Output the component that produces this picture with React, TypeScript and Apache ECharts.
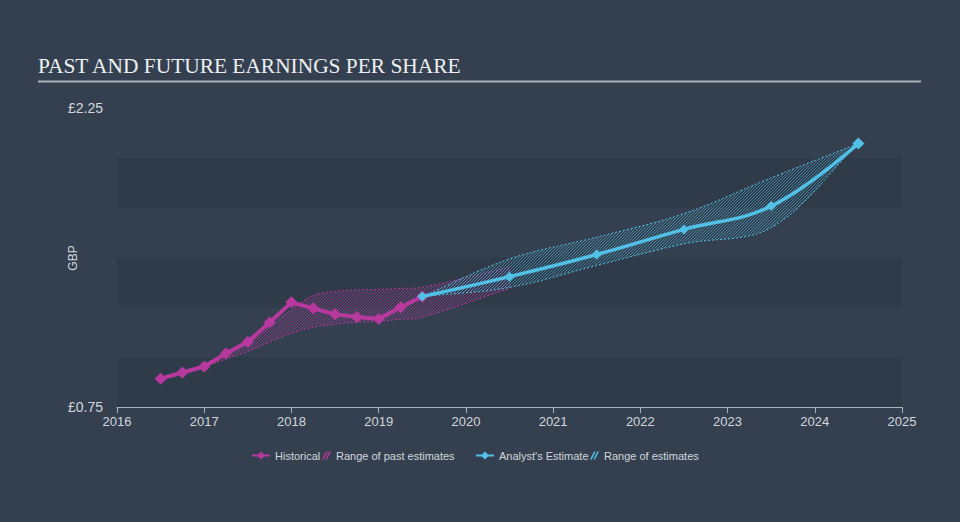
import React, { useEffect, useRef } from 'react';
import * as echarts from 'echarts';

// ---- data ----
const historicalX = [2016.5, 2016.75, 2017.0, 2017.25, 2017.5, 2017.75, 2018.0, 2018.25, 2018.5, 2018.75, 2019.0, 2019.25, 2019.5];
const historicalEPS = [0.892, 0.923, 0.953, 1.018, 1.077, 1.174, 1.275, 1.245, 1.215, 1.201, 1.191, 1.25, 1.304];

const pastRangeX = [2017.0, 2017.25, 2017.5, 2017.75, 2018.0, 2018.25, 2018.5, 2018.75, 2019.0, 2019.25, 2019.5, 2020.5];
const pastRangeLow = [0.953, 0.99, 1.03, 1.075, 1.12, 1.15, 1.165, 1.175, 1.18, 1.19, 1.2, 1.345];
const pastRangeHigh = [0.953, 1.015, 1.07, 1.15, 1.24, 1.31, 1.33, 1.337, 1.34, 1.345, 1.35, 1.45];

const futureX = [2019.5, 2020.5, 2021.5, 2022.5, 2023.5, 2024.5];
const estimateEPS = [1.304, 1.404, 1.515, 1.641, 1.758, 2.072];
const futureLow = [1.304, 1.35, 1.46, 1.569, 1.65, 2.072];
const futureHigh = [1.304, 1.493, 1.602, 1.72, 1.9, 2.072];

const yLabelValues = [0.75, 2.25];
const xYears = [2016, 2017, 2018, 2019, 2020, 2021, 2022, 2023, 2024, 2025];

const TITLE = 'PAST AND FUTURE EARNINGS PER SHARE';

// ---- styles ----
const BG = '#344050';
const BAND = '#303b4a';
const MAGENTA = '#b7399e';
const CYAN = '#52c1e8';
const TEXT = '#d3d7dc';
const SMOOTH = 0.35;
const HATCH_GAP = 3;

type Pt = number[];

// cubic bezier segments for a smooth curve through screen points
function segments(pts: Pt[], s: number): Pt[][] {
  const out: Pt[][] = [];
  for (let i = 0; i < pts.length - 1; i++) {
    const p0 = pts[i];
    const p1 = pts[i + 1];
    const prev = pts[i - 1] || p0;
    const next = pts[i + 2] || p1;
    const d0a = Math.hypot(p0[0] - prev[0], p0[1] - prev[1]);
    const d0b = Math.hypot(p1[0] - p0[0], p1[1] - p0[1]);
    const d1b = Math.hypot(next[0] - p1[0], next[1] - p1[1]);
    const r0 = d0a + d0b > 0 ? d0b / (d0a + d0b) : 0;
    const r1 = d0b + d1b > 0 ? d0b / (d0b + d1b) : 0;
    const c1 = [p0[0] + (p1[0] - prev[0]) * s * r0, p0[1] + (p1[1] - prev[1]) * s * r0];
    const c2 = [p1[0] - (next[0] - p0[0]) * s * r1, p1[1] - (next[1] - p0[1]) * s * r1];
    out.push([p0, c1, c2, p1]);
  }
  return out;
}

function traceSmooth(ctx: any, pts: Pt[], s: number, moveFirst: boolean) {
  if (moveFirst) ctx.moveTo(pts[0][0], pts[0][1]);
  else ctx.lineTo(pts[0][0], pts[0][1]);
  for (const [, c1, c2, p1] of segments(pts, s)) ctx.bezierCurveTo(c1[0], c1[1], c2[0], c2[1], p1[0], p1[1]);
}

function flatten(pts: Pt[], s: number): Pt[] {
  const res: Pt[] = [pts[0]];
  for (const [p0, c1, c2, p1] of segments(pts, s)) {
    for (let k = 1; k <= 24; k++) {
      const t = k / 24;
      const u = 1 - t;
      const a = u * u * u, b = 3 * u * u * t, c = 3 * u * t * t, d = t * t * t;
      res.push([a * p0[0] + b * c1[0] + c * c2[0] + d * p1[0], a * p0[1] + b * c1[1] + c * c2[1] + d * p1[1]]);
    }
  }
  return res;
}

function sampleY(flat: Pt[], xs: number[]): number[] {
  const out: number[] = [];
  let j = 0;
  for (const x of xs) {
    while (j < flat.length - 2 && flat[j + 1][0] < x) j++;
    const a = flat[j];
    const b = flat[j + 1] || a;
    const dx = b[0] - a[0];
    const t = dx !== 0 ? Math.min(1, Math.max(0, (x - a[0]) / dx)) : 0;
    out.push(a[1] + (b[1] - a[1]) * t);
  }
  return out;
}

echarts.graphic.registerShape(
  'bandShape',
  echarts.graphic.extendShape({
    shape: { upper: [] as Pt[], lower: [] as Pt[], smooth: 0.35 },
    buildPath(ctx: any, shape: any) {
      const up: Pt[] = shape.upper;
      const lo: Pt[] = shape.lower;
      if (!up.length) return;
      traceSmooth(ctx, up, shape.smooth, true);
      traceSmooth(ctx, lo.slice().reverse(), shape.smooth, false);
      ctx.closePath();
    },
  } as any)
);

echarts.graphic.registerShape(
  'bandHatch',
  echarts.graphic.extendShape({
    shape: { upper: [] as Pt[], lower: [] as Pt[], smooth: 0.35, gap: 3 },
    buildPath(ctx: any, shape: any) {
      const up: Pt[] = shape.upper;
      const lo: Pt[] = shape.lower;
      if (!up.length) return;
      const fu = flatten(up, shape.smooth);
      const fl = flatten(lo, shape.smooth);
      const x0 = up[0][0];
      const x1 = up[up.length - 1][0];
      const step = 0.5;
      const xs: number[] = [];
      for (let x = x0; x <= x1 + 1e-6; x += step) xs.push(x);
      const yu = sampleY(fu, xs);
      const yl = sampleY(fl, xs);
      let yMin = Infinity, yMax = -Infinity;
      for (let i = 0; i < xs.length; i++) {
        yMin = Math.min(yMin, yu[i]);
        yMax = Math.max(yMax, yl[i]);
      }
      // lines of the form x + y = c  ("/" direction)
      const cStart = Math.floor((x0 + yMin) / shape.gap) * shape.gap;
      for (let c = cStart; c <= x1 + yMax; c += shape.gap) {
        let start = -1;
        for (let i = 0; i <= xs.length; i++) {
          const inside = i < xs.length && c - xs[i] >= yu[i] && c - xs[i] <= yl[i];
          if (inside && start < 0) start = i;
          if (!inside && start >= 0) {
            const xa = xs[start];
            const xb = xs[i - 1];
            if (xb > xa) {
              ctx.moveTo(xa, c - xa);
              ctx.lineTo(xb, c - xb);
            }
            start = -1;
          }
        }
      }
    },
  } as any)
);

const RANGE_ICON = 'path://M0,10L5,0L7,0L2,10Z M4,10L9,0L11,0L6,10Z';

export default function App() {
  const ref = useRef<HTMLDivElement>(null);
  useEffect(() => {
    document.body.style.margin = '0';
    const chart = echarts.init(ref.current!, null, { renderer: 'svg' });

    const pair = (xs: number[], ys: number[]) => xs.map((x, i) => [x, ys[i]]);

    const bandSeries = (name: string, xs: number[], lo: number[], hi: number[], color: string, hatchColor: string, z: number) => ({
      name,
      type: 'custom',
      z,
      silent: true,
      itemStyle: { color },
      data: xs.map((x, i) => [x, lo[i], hi[i]]),
      encode: { x: 0, y: [1, 2] },
      renderItem: (params: any, api: any) => {
        if (params.dataIndex !== 0) return null;
        const upper = xs.map((x, i) => api.coord([x, hi[i]]));
        const lower = xs.map((x, i) => api.coord([x, lo[i]]));
        return {
          type: 'group',
          children: [
            {
              type: 'bandHatch',
              shape: { upper, lower, smooth: SMOOTH, gap: HATCH_GAP },
              style: { fill: 'none', stroke: hatchColor, lineWidth: 0.9 },
            },
            {
              type: 'bandShape',
              shape: { upper, lower, smooth: SMOOTH },
              style: { fill: 'none', stroke: color, lineWidth: 1, lineDash: [2, 2] },
            },
          ],
        };
      },
    });

    const legendText = { color: TEXT, fontSize: 11, fontFamily: 'Liberation Sans, Arial, sans-serif' };
    const mkLegend = (name: string, left: number, extra: any) => ({
      data: [name],
      left,
      top: 450,
      padding: 0,
      selectedMode: false,
      textStyle: legendText,
      ...extra,
    });

    const option: any = {
      animation: false,
      backgroundColor: BG,
      grid: { left: 117, right: 58, top: 108, bottom: 115, outerBoundsMode: 'none' },
      xAxis: {
        type: 'value',
        min: 2016,
        max: 2025,
        interval: 1,
        axisLine: { show: true, lineStyle: { color: '#aab3bd', width: 1 } },
        axisTick: { show: true, length: 6, lineStyle: { color: '#aab3bd' } },
        axisLabel: {
          color: TEXT,
          fontSize: 13,
          margin: 8,
          fontFamily: 'Liberation Sans, Arial, sans-serif',
          formatter: (v: number) => (xYears.includes(Math.round(v)) ? String(Math.round(v)) : ''),
        },
        splitLine: { show: false },
      },
      yAxis: {
        type: 'value',
        min: 0.75,
        max: 2.25,
        interval: 0.25,
        axisLine: { show: false },
        axisTick: { show: false },
        splitLine: { show: false },
        splitArea: { show: true, areaStyle: { color: [BAND, 'rgba(0,0,0,0)'] } },
        axisLabel: {
          color: TEXT,
          fontSize: 14,
          margin: 14,
          fontFamily: 'Liberation Sans, Arial, sans-serif',
          formatter: (v: number) =>
            yLabelValues.some((t) => Math.abs(t - v) < 1e-6) ? '£' + v.toFixed(2) : '',
        },
      },
      legend: [
        mkLegend('Historical', 251, { itemWidth: 18, itemHeight: 10 }),
        mkLegend('Range of past estimates', 322, {
          itemWidth: 9,
          itemHeight: 10,
          data: [{ name: 'Range of past estimates', icon: RANGE_ICON, itemStyle: { color: MAGENTA } }],
        }),
        mkLegend("Analyst's Estimate", 475, { itemWidth: 18, itemHeight: 10 }),
        mkLegend('Range of estimates', 590, {
          itemWidth: 9,
          itemHeight: 10,
          data: [{ name: 'Range of estimates', icon: RANGE_ICON, itemStyle: { color: CYAN } }],
        }),
      ],
      graphic: [
        {
          type: 'text',
          left: 38,
          top: 55,
          style: {
            text: TITLE,
            fill: '#eef0f2',
            font: '21.4px "Liberation Serif", "Times New Roman", serif',
          },
        },
        {
          type: 'line',
          shape: { x1: 38, y1: 81.5, x2: 921, y2: 81.5 },
          style: { stroke: '#a9b0b8', lineWidth: 2 },
        },
        {
          type: 'text',
          x: 73,
          y: 258,
          rotation: Math.PI / 2,
          style: {
            text: 'GBP',
            fill: TEXT,
            font: '12px "Liberation Sans", Arial, sans-serif',
            align: 'center',
            verticalAlign: 'middle',
          },
        },
      ],
      series: [
        bandSeries('Range of past estimates', pastRangeX, pastRangeLow, pastRangeHigh, MAGENTA, 'rgba(183,57,158,0.7)', 1),
        bandSeries('Range of estimates', futureX, futureLow, futureHigh, CYAN, 'rgba(82,193,232,0.6)', 2),
        {
          name: 'Historical',
          type: 'line',
          data: pair(historicalX, historicalEPS),
          symbol: 'diamond',
          symbolSize: 12,
          itemStyle: { color: MAGENTA },
          lineStyle: { color: MAGENTA, width: 4 },
          z: 5,
        },
        {
          name: "Analyst's Estimate",
          type: 'line',
          smooth: 0.4,
          data: pair(futureX, estimateEPS).map((p, i, arr) =>
            i === arr.length - 1 ? { value: p, symbolSize: 12 } : { value: p }
          ),
          symbol: 'diamond',
          symbolSize: 10,
          itemStyle: { color: CYAN },
          lineStyle: { color: CYAN, width: 3.5 },
          z: 6,
        },
      ],
    };

    chart.setOption(option);
    return () => chart.dispose();
  }, []);
  return <div ref={ref} style={{ width: 960, height: 522, background: BG }} />;
}
